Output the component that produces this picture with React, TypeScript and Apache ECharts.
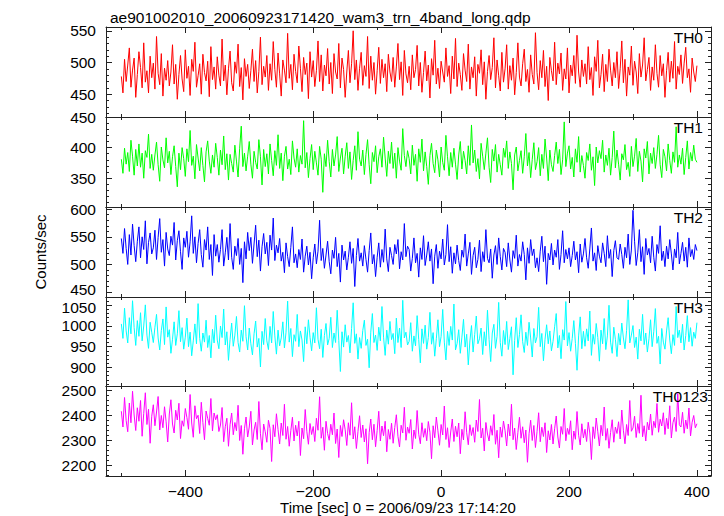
import React, { useEffect, useRef } from "react";
import * as echarts from "echarts";

const TITLE = "ae901002010_20060923171420_wam3_trn_4band_long.qdp";
const X_NAME = "Time [sec] 0 = 2006/09/23 17:14:20";
const Y_NAME = "Counts/sec";
const BANDS = ["TH0", "TH1", "TH2", "TH3", "TH0123"];
const COLORS = ["#ff0000", "#00ff00", "#0000ff", "#00ffff", "#ff00ff"];

const T_START = -500;
const T_STEP = 2.5;

const TH0 = [
  478, 452, 505, 470, 496, 523, 461, 488, 507, 445,
  481, 517, 492, 460, 531, 469, 487, 452, 510, 476,
  499, 458, 541, 483, 465, 514, 447, 491, 472, 503,
  463, 485, 528, 466, 497, 442, 481, 511, 474, 454,
  520, 475, 494, 448, 505, 486, 532, 461, 479, 498,
  450, 513, 484, 471, 502, 446, 525, 473, 493, 458,
  509, 480, 463, 537, 471, 496, 449, 490, 518, 468,
  455, 501, 483, 529, 462, 492, 441, 506, 478, 497,
  459, 487, 521, 470, 503, 452, 486, 540, 465, 494,
  477, 511, 456, 498, 472, 533, 489, 461, 515, 482,
  447, 504, 488, 468, 546, 475, 497, 457, 513, 486,
  468, 526, 491, 454, 508, 481, 499, 443, 517, 477,
  503, 462, 487, 534, 470, 512, 455, 496, 479, 522,
  466, 500, 451, 514, 485, 474, 530, 460, 507, 489,
  445, 485, 519, 468, 498, 550, 473, 504, 456, 491,
  516, 464, 495, 478, 541, 459, 510, 472, 500, 450,
  487, 524, 467, 505, 476, 498, 454, 513, 485, 470,
  508, 461, 493, 530, 473, 501, 448, 519, 482, 468,
  494, 457, 512, 476, 489, 527, 463, 500, 453, 484,
  518, 471, 496, 444, 506, 480, 535, 466, 491, 459,
  502, 485, 469, 523, 478, 495, 451, 510, 474, 538,
  462, 499, 481, 456, 514, 488, 470, 529, 458, 493,
  476, 509, 447, 497, 483, 520, 465, 501, 442, 486,
  511, 473, 492, 539, 460, 504, 479, 455, 516, 469,
  490, 528, 458, 495, 472, 507, 449, 484, 531, 477,
  463, 498, 521, 470, 489, 453, 512, 481, 466, 547,
  484, 457, 503, 476, 519, 462, 494, 440, 508, 487,
  471, 532, 465, 499, 482, 515, 456, 490, 474, 523,
  452, 496, 479, 511, 467, 543, 485, 461, 504, 478,
  498, 466, 525, 473, 492, 448, 509, 486, 535, 460,
  481, 513, 454, 497, 470, 521, 488, 463, 500, 476,
  517, 459, 490, 534, 468, 505, 447, 493, 480, 526,
  464, 502, 485, 451, 514, 477, 496, 539, 471, 489,
  508, 456, 493, 472, 528, 483, 461, 511, 479, 498,
  445, 487, 516, 469, 502, 475, 533, 458, 494, 481,
  512, 467, 499, 524, 476, 490, 453, 507, 485, 470,
  495,
];

const TH1 = [
  381, 358, 399, 373, 392, 361, 412, 386, 355, 397,
  370, 406, 368, 391, 350, 395, 384, 422, 366, 389,
  363, 388, 409, 372, 345, 401, 380, 367, 416, 375,
  394, 356, 385, 403, 369, 336, 391, 364, 400, 382,
  353, 398, 377, 428, 371, 386, 349, 405, 383, 362,
  400, 371, 344, 393, 411, 378, 358, 388, 368, 407,
  384, 355, 396, 372, 419, 364, 390, 347, 389, 374,
  360, 404, 378, 352, 399, 435, 369, 391, 362, 386,
  410, 373, 350, 394, 376, 365, 413, 385, 339, 397,
  369, 390, 357, 406, 379, 354, 395, 371, 421, 366,
  391, 346, 386, 402, 365, 381, 356, 411, 383, 368,
  398, 360, 387, 373, 444, 367, 392, 351, 382, 405,
  364, 394, 375, 355, 402, 381, 327, 390, 369, 412,
  377, 352, 397, 370, 388, 418, 361, 383, 399, 357,
  386, 408, 366, 393, 348, 379, 403, 363, 426, 381,
  370, 396, 356, 389, 413, 372, 341, 392, 377, 403,
  359, 385, 398, 368, 417, 383, 353, 394, 374, 409,
  366, 391, 350, 400, 378, 363, 431, 387, 369, 395,
  382, 357, 404, 371, 389, 345, 398, 376, 414, 362,
  393, 369, 340, 387, 407, 374, 359, 396, 380, 352,
  401, 376, 363, 420, 385, 354, 392, 368, 399, 373,
  348, 388, 410, 365, 394, 379, 357, 403, 371, 437,
  375, 396, 361, 382, 349, 407, 386, 364, 391, 416,
  368, 343, 397, 378, 405, 360, 389, 372, 355, 399,
  384, 411, 366, 393, 374, 331, 388, 401, 362, 379,
  395, 358, 385, 423, 370, 392, 351, 381, 408, 364,
  377, 400, 354, 389, 366, 414, 383, 346, 396, 372,
  361, 387, 409, 374, 397, 356, 380, 442, 369, 391,
  403, 365, 384, 352, 398, 376, 418, 360, 387, 371,
  350, 392, 379, 406, 363, 385, 338, 401, 375, 395,
  382, 412, 360, 388, 371, 399, 355, 384, 427, 367,
  396, 373, 347, 390, 380, 405, 364, 376, 353, 402,
  369, 386, 415, 361, 394, 378, 344, 398, 383, 410,
  357, 391, 374, 400, 366, 389, 420, 372, 351, 397,
  385, 362, 406, 379, 358, 393, 376, 434, 368, 388,
  373, 399, 356, 384, 411, 365, 392, 378, 404, 381,
  376,
];

const TH2 = [
  547, 520, 565, 529, 500, 554, 517, 573, 534, 505,
  542, 568, 512, 550, 527, 579, 501, 540, 557, 519,
  530, 562, 509, 549, 583, 522, 545, 497, 558, 528,
  516, 551, 535, 576, 508, 543, 561, 523, 491, 548,
  531, 560, 513, 541, 588, 520, 550, 503, 538, 563,
  518, 495, 545, 526, 568, 509, 536, 480, 554, 515,
  536, 504, 527, 563, 497, 521, 549, 508, 574, 513,
  491, 533, 516, 547, 500, 529, 467, 541, 510, 558,
  525, 549, 502, 537, 571, 514, 544, 488, 532, 556,
  519, 540, 498, 553, 526, 584, 507, 535, 521, 547,
  506, 522, 485, 539, 514, 496, 531, 568, 503, 519,
  494, 527, 509, 546, 486, 515, 533, 499, 522, 474,
  512, 537, 501, 524, 580, 507, 529, 493, 517, 542,
  505, 483, 526, 511, 549, 496, 520, 468, 535, 508,
  524, 490, 513, 541, 502, 529, 460, 516, 547, 506,
  521, 497, 534, 509, 486, 525, 557, 501, 518, 478,
  513, 539, 495, 527, 504, 564, 510, 487, 531, 516,
  500, 536, 519, 545, 492, 523, 508, 574, 514, 533,
  527, 488, 511, 548, 503, 520, 477, 530, 509, 552,
  498, 517, 541, 506, 528, 465, 515, 536, 493, 524,
  510, 546, 499, 518, 572, 505, 532, 484, 521, 501,
  535, 507, 489, 526, 513, 555, 497, 519, 540, 482,
  516, 531, 494, 509, 544, 487, 523, 505, 563, 511,
  503, 528, 475, 517, 534, 500, 548, 514, 490, 529,
  522, 496, 539, 508, 486, 525, 511, 553, 497, 518,
  506, 541, 518, 472, 530, 502, 545, 516, 528, 494,
  512, 487, 524, 551, 505, 533, 464, 520, 508, 538,
  499, 526, 513, 545, 491, 518, 561, 503, 527, 510,
  530, 496, 516, 542, 508, 523, 485, 537, 504, 519,
  547, 512, 493, 528, 566, 506, 521, 489, 534, 515,
  503, 539, 520, 496, 552, 511, 527, 478, 525, 543,
  512, 509, 537, 518, 493, 531, 512, 555, 500, 526,
  598, 542, 498, 521, 563, 505, 532, 482, 547, 517,
  529, 503, 551, 513, 488, 536, 520, 570, 507, 524,
  496, 533, 510, 545, 519, 490, 528, 512, 558, 501,
  520, 540, 506, 531, 495, 548, 514, 527, 509, 536,
  525,
];

const TH3 = [
  1005, 970, 1043, 988, 959, 1020, 981, 1061, 996, 953,
  1013, 975, 1032, 964, 1000, 1051, 978, 946, 1009, 985,
  960, 997, 1028, 971, 942, 989, 1017, 955, 1046, 973,
  991, 934, 968, 1010, 953, 981, 1037, 962, 996, 944,
  973, 1019, 950, 985, 928, 964, 1005, 957, 1054, 970,
  939, 983, 961, 1014, 948, 977, 923, 992, 959, 1026,
  966, 945, 1000, 972, 1041, 954, 986, 917, 968, 1007,
  951, 978, 1023, 960, 937, 990, 963, 1049, 974, 942,
  995, 957, 930, 981, 1012, 949, 970, 901, 987, 955,
  1018, 964, 943, 999, 959, 1035, 976, 932, 990, 952,
  971, 1010, 947, 985, 1060, 961, 994, 926, 979, 963,
  1028, 950, 988, 966, 914, 998, 957, 1015, 973, 940,
  984, 959, 1044, 968, 945, 992, 924, 977, 1006, 954,
  970, 1021, 948, 983, 960, 1038, 965, 890, 986, 949,
  1003, 961, 977, 935, 994, 1056, 958, 981, 920, 972,
  946, 989, 1014, 953, 968, 899, 985, 1030, 960, 978,
  941, 997, 964, 1047, 973, 929, 990, 956, 1011, 967,
  982, 933, 1019, 960, 995, 948, 1062, 971, 985, 954,
  963, 1008, 939, 976, 952, 1025, 967, 911, 993, 958,
  1002, 944, 972, 1033, 956, 984, 927, 969, 1015, 950,
  975, 1040, 961, 918, 987, 953, 999, 966, 1053, 942,
  958, 991, 934, 973, 1016, 949, 980, 906, 964, 1001,
  937, 979, 1024, 957, 969, 995, 931, 986, 952, 1038,
  967, 914, 983, 1004, 946, 975, 1057, 960, 927, 989,
  955, 1011, 943, 970, 998, 882, 965, 1020, 948, 979,
  1027, 962, 936, 985, 953, 1009, 971, 925, 994, 959,
  974, 1045, 950, 982, 916, 968, 1003, 957, 988, 940,
  963, 998, 1030, 947, 977, 921, 991, 966, 1059, 952,
  984, 939, 970, 1013, 958, 893, 976, 1022, 945, 987,
  951, 993, 964, 1036, 929, 980, 956, 1006, 972, 915,
  990, 957, 1018, 943, 976, 1050, 961, 934, 997, 968,
  926, 982, 954, 1007, 971, 945, 989, 1063, 959, 978,
  1001, 948, 973, 920, 992, 964, 1028, 955, 983, 937,
  969, 1015, 950, 986, 1042, 958, 975, 908, 994, 961,
  944, 988, 1020, 966, 933, 979, 953, 1047, 972, 990,
  959, 1004, 942, 977, 1025, 962, 996, 951, 985, 970,
  1008,
];

const TH0123 = [
  2415, 2352, 2470, 2378, 2333, 2448, 2369, 2495, 2400, 2338,
  2429, 2375, 2458, 2315, 2406, 2489, 2362, 2423, 2287, 2395,
  2441, 2357, 2412, 2474, 2340, 2398, 2349, 2433, 2373, 2292,
  2404, 2461, 2364, 2328, 2419, 2380, 2447, 2306, 2377, 2355,
  2426, 2390, 2343, 2482, 2368, 2311, 2437, 2385, 2399, 2326,
  2451, 2370, 2301, 2416, 2387, 2359, 2466, 2336, 2408, 2381,
  2401, 2334, 2360, 2430, 2293, 2353, 2387, 2275, 2361, 2408,
  2321, 2370, 2337, 2439, 2298, 2358, 2243, 2345, 2392, 2312,
  2352, 2415, 2280, 2340, 2371, 2302, 2454, 2325, 2261, 2364,
  2333, 2291, 2379, 2346, 2214, 2361, 2313, 2405, 2342, 2284,
  2368, 2318, 2443, 2303, 2354, 2275, 2337, 2391, 2296, 2359,
  2316, 2375, 2238, 2348, 2305, 2422, 2335, 2283, 2366, 2322,
  2354, 2294, 2387, 2339, 2473, 2307, 2351, 2259, 2375, 2326,
  2299, 2363, 2321, 2408, 2286, 2344, 2230, 2358, 2314, 2381,
  2341, 2278, 2369, 2319, 2449, 2304, 2353, 2266, 2334, 2397,
  2310, 2360, 2292, 2345, 2205, 2330, 2384, 2301, 2363, 2273,
  2338, 2415, 2296, 2356, 2317, 2375, 2253, 2342, 2303, 2367,
  2287, 2350, 2401, 2315, 2272, 2359, 2328, 2431, 2299, 2352,
  2327, 2382, 2264, 2340, 2306, 2418, 2323, 2285, 2369, 2311,
  2346, 2297, 2374, 2331, 2225, 2357, 2309, 2392, 2337, 2279,
  2362, 2320, 2436, 2302, 2349, 2270, 2332, 2384, 2294, 2355,
  2313, 2368, 2245, 2343, 2300, 2413, 2329, 2281, 2361, 2318,
  2350, 2291, 2380, 2334, 2462, 2308, 2347, 2256, 2370, 2324,
  2296, 2357, 2319, 2402, 2283, 2339, 2229, 2352, 2311, 2376,
  2337, 2276, 2364, 2316, 2443, 2301, 2348, 2262, 2329, 2391,
  2307, 2353, 2289, 2340, 2211, 2325, 2379, 2298, 2358, 2270,
  2334, 2409, 2293, 2351, 2314, 2369, 2250, 2337, 2300, 2362,
  2284, 2345, 2396, 2312, 2268, 2354, 2323, 2426, 2297, 2347,
  2322, 2377, 2261, 2336, 2303, 2414, 2319, 2280, 2365, 2308,
  2343, 2294, 2371, 2328, 2222, 2353, 2306, 2388, 2333, 2276,
  2359, 2317, 2432, 2299, 2346, 2267, 2330, 2381, 2291, 2352,
  2326, 2373, 2304, 2420, 2339, 2285, 2362, 2318, 2458, 2335,
  2348, 2395, 2310, 2366, 2327, 2479, 2313, 2357, 2296, 2371,
  2340, 2404, 2319, 2375, 2349, 2446, 2331, 2383, 2356, 2409,
  2322, 2387, 2345, 2437, 2308, 2369, 2392, 2334, 2486, 2361,
  2352, 2411, 2327, 2380, 2345, 2428, 2316, 2371, 2398, 2349,
  2365,
];

const SERIES = [TH0, TH1, TH2, TH3, TH0123];

const X_MIN = -524;
const X_MAX = 422;
const X_MAJOR = [-400, -200, 0, 200, 400];
const X_MINOR = [-500, -300, -100, 100, 300];

const Y_MIN = [414, 303, 441, 855, 2156];
const Y_MAX = [556, 450, 604, 1070, 2516];
const Y_MAJOR = [
  [450, 500, 550],
  [350, 400, 450],
  [450, 500, 550, 600],
  [900, 950, 1000, 1050],
  [2200, 2300, 2400, 2500],
];
const Y_MINOR_STEP = [10, 10, 10, 10, 20];

const FONT = "'Liberation Sans', Arial, Helvetica, sans-serif";
const AXIS_COLOR = "#222";
const GRID_TOPS = [27, 117, 207, 297, 386];
const GRID_HEIGHTS = [90, 90, 90, 89, 90];
const LABEL_RIGHT = [703, 703, 703, 703, 708];
// small nudges for the two crowded labels at the TH2/TH3 boundary
const LABEL_NUDGE: Record<number, Record<number, string>> = {
  2: { 450: "up" },
  3: { 1050: "down" },
};

export default function App() {
  const ref = useRef<HTMLDivElement>(null);

  useEffect(() => {
    if (!ref.current) return;
    const chart = echarts.init(ref.current, undefined, { renderer: "svg" });

    const grids: any[] = [];
    const xAxes: any[] = [];
    const yAxes: any[] = [];
    const series: any[] = [];
    const graphics: any[] = [];
    const lineStyle = { color: AXIS_COLOR, width: 1 };
    const labelText = { color: "#000", fontSize: 15.5, fontFamily: FONT };

    for (let i = 0; i < 5; i++) {
      grids.push({ left: 106, width: 605, top: GRID_TOPS[i], height: GRID_HEIGHTS[i] });

      const minorY: number[] = [];
      const step = Y_MINOR_STEP[i];
      for (let v = Math.ceil(Y_MIN[i] / step) * step; v <= Y_MAX[i]; v += step) minorY.push(v);

      const mkX = (pos: string, major: boolean) => ({
        type: "value",
        gridIndex: i,
        min: X_MIN,
        max: X_MAX,
        position: pos,
        axisLine: { show: major, onZero: false, lineStyle },
        axisTick: {
          show: true,
          inside: true,
          length: major ? 6 : 3,
          customValues: major ? X_MAJOR : X_MINOR,
          lineStyle,
        },
        axisLabel: {
          show: major && pos === "bottom" && i === 4,
          customValues: X_MAJOR,
          margin: 7,
          ...labelText,
          formatter: (v: number) => String(v).replace("-", "\u2212"),
        },
        splitLine: { show: false },
      });
      xAxes.push(mkX("bottom", true), mkX("bottom", false), mkX("top", true), mkX("top", false));

      const nudge = LABEL_NUDGE[i] || {};
      const mkY = (pos: string, major: boolean) => ({
        type: "value",
        gridIndex: i,
        min: Y_MIN[i],
        max: Y_MAX[i],
        position: pos,
        axisLine: { show: major, onZero: false, lineStyle },
        axisTick: {
          show: true,
          inside: true,
          length: major ? 6 : 3,
          customValues: major ? Y_MAJOR[i] : minorY,
          lineStyle,
        },
        axisLabel: {
          show: major && pos === "left",
          customValues: Y_MAJOR[i],
          margin: 10,
          ...labelText,
          lineHeight: 14,
          formatter: (v: number) => (nudge[v] ? `{${nudge[v]}|${v}}` : String(v)),
          rich: {
            up: { ...labelText, lineHeight: 14, padding: [0, 0, 5, 0] },
            down: { ...labelText, lineHeight: 14, padding: [5, 0, 0, 0] },
          },
        },
        splitLine: { show: false },
      });
      yAxes.push(mkY("left", true), mkY("left", false), mkY("right", true), mkY("right", false));

      const values = SERIES[i];
      series.push({
        type: "line",
        xAxisIndex: i * 4,
        yAxisIndex: i * 4,
        data: values.map((v, k) => [T_START + k * T_STEP, v]),
        showSymbol: false,
        symbol: "none",
        lineStyle: { color: COLORS[i], width: 1 },
        itemStyle: { color: COLORS[i] },
        z: 1,
      });

      graphics.push({
        type: "text",
        x: LABEL_RIGHT[i],
        y: GRID_TOPS[i] + 10,
        z: 10,
        style: {
          text: BANDS[i],
          fill: "#000",
          font: `15.5px ${FONT}`,
          textAlign: "right",
          textVerticalAlign: "middle",
        },
      });
    }

    graphics.push(
      {
        type: "text",
        x: 398,
        y: 507,
        style: {
          text: X_NAME,
          fill: "#000",
          font: `15px ${FONT}`,
          textAlign: "center",
          textVerticalAlign: "middle",
        },
      },
      {
        type: "text",
        x: 40,
        y: 252,
        rotation: Math.PI / 2,
        style: {
          text: Y_NAME,
          fill: "#000",
          font: `15px ${FONT}`,
          textAlign: "center",
          textVerticalAlign: "middle",
        },
      }
    );

    chart.setOption({
      animation: false,
      backgroundColor: "#fff",
      title: {
        text: TITLE,
        left: 105,
        top: 4,
        textStyle: { color: "#000", fontSize: 15.5, fontWeight: "normal", fontFamily: FONT },
      },
      grid: grids,
      xAxis: xAxes,
      yAxis: yAxes,
      series,
      graphic: graphics,
    });

    return () => chart.dispose();
  }, []);

  return (
    <div
      ref={ref}
      style={{ position: "fixed", left: 0, top: 0, width: 724, height: 516 }}
    />
  );
}
